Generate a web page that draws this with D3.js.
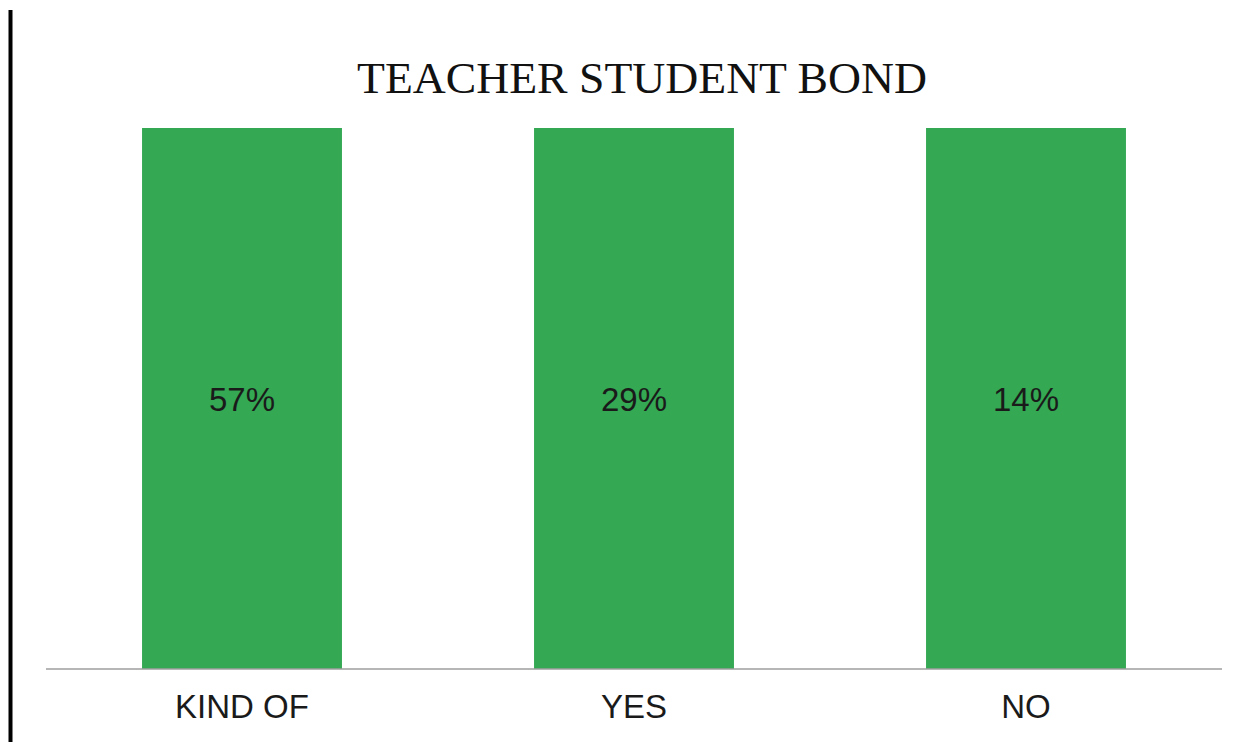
<!DOCTYPE html>
<html><head><meta charset="utf-8">
<script src="https://cdn.jsdelivr.net/npm/d3@7"></script>
<style>html,body{margin:0;padding:0;background:#fff;}svg{display:block;}</style>
</head><body>
<svg id="chart" width="1253" height="742"></svg>
<script>
const title = "TEACHER STUDENT BOND";
const categories = ["KIND OF", "YES", "NO"];
const values = [57, 29, 14];
const valueLabels = ["57%", "29%", "14%"];

const W = 1253, H = 742;
const svg = d3.select("#chart");
const margin = {left: 46, right: 31, top: 128, bottom: 73};

// Left border line
svg.append("line").attr("x1", 10.5).attr("x2", 10.5).attr("y1", 10).attr("y2", H)
  .attr("stroke", "#000").attr("stroke-width", 4);

const data = categories.map((c, i) => ({cat: c, v: values[i], label: valueLabels[i]}));
// 100% stacked single series: each column normalized to full height
const stack = d3.stack().keys(["v"]).offset(d3.stackOffsetExpand);
const series = stack(data);

const x = d3.scaleBand().domain(categories).range([margin.left, W - margin.right]).paddingInner(0.49).paddingOuter(0.245);
const y = d3.scaleLinear().domain([0, 1]).range([H - margin.bottom, margin.top]);

svg.append("g").selectAll("rect").data(series[0]).join("rect")
  .attr("x", d => x(d.data.cat))
  .attr("width", x.bandwidth())
  .attr("y", d => y(d[1]))
  .attr("height", d => y(d[0]) - y(d[1]))
  .attr("fill", "#34a853");

svg.append("g").selectAll("text").data(series[0]).join("text")
  .attr("x", d => x(d.data.cat) + x.bandwidth() / 2)
  .attr("y", d => (y(d[0]) + y(d[1])) / 2 + 12)
  .attr("text-anchor", "middle")
  .attr("font-family", "Liberation Sans, Arial, sans-serif")
  .attr("font-size", 33)
  .attr("fill", "#1a1a1a")
  .text(d => d.data.label);

// x axis
const xAxis = svg.append("g").attr("transform", `translate(0,${H - margin.bottom})`)
  .call(d3.axisBottom(x).tickSize(0).tickPadding(0));
xAxis.select(".domain").attr("stroke", "#9e9e9e").attr("stroke-width", 1.5)
  .attr("d", `M${margin.left},0H${W - margin.right}`);
xAxis.selectAll(".tick text")
  .attr("font-family", "Liberation Sans, Arial, sans-serif")
  .attr("font-size", 33)
  .attr("fill", "#1a1a1a")
  .attr("dy", null)
  .attr("y", 49);

// title
svg.append("text")
  .attr("x", 642).attr("y", 93)
  .attr("text-anchor", "middle")
  .attr("font-family", "Liberation Serif, Times New Roman, serif")
  .attr("font-size", 44)
  .attr("fill", "#111")
  .attr("textLength", 570)
  .attr("lengthAdjust", "spacingAndGlyphs")
  .text(title);
</script>
</body></html>
